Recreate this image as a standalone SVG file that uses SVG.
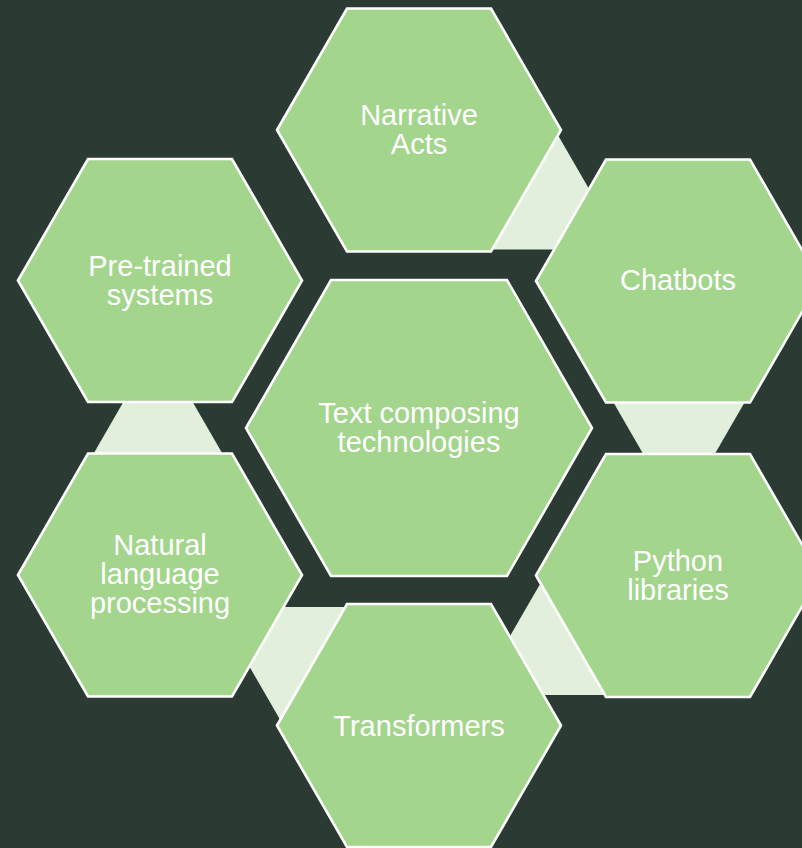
<svg xmlns="http://www.w3.org/2000/svg" width="802" height="848" viewBox="0 0 802 848">
  <style>
    .hex { fill: #a3d58d; stroke: #ffffff; stroke-width: 2.6; stroke-linejoin: miter; }
    .link { fill: #e1efdc; stroke: none; }
    .label { fill: #ffffff; font-family: "Liberation Sans", Arial, sans-serif; font-size: 29px; text-anchor: middle; }
  </style>
  <defs>
    <!-- outer hexagon, centred on the origin -->
    <polygon id="hexOuter" points="-142,0 -72,-121.5 72,-121.5 142,0 72,121.5 -72,121.5"/>
  </defs>

  <rect width="802" height="848" fill="#2b3a33"/>

  <!-- triangular links between neighbouring outer hexagons -->
  <g id="connectors">
    <polygon class="link" points="555,130 486,249.5 624,249.5"/>
    <polygon class="link" points="610,396.5 748,396.5 679,516"/>
    <polygon class="link" points="545,575.5 476,695 614,695"/>
    <polygon class="link" points="215,607 353,607 284,726.5"/>
    <polygon class="link" points="158,342 89,461.5 227,461.5"/>
  </g>

  <g id="center">
    <polygon class="hex" points="246,428 331,280 507,280 592,428 507,576 331,576"/>
    <text class="label" x="419" y="423">Text composing</text>
    <text class="label" x="419" y="452">technologies</text>
  </g>

  <g id="narrative-acts">
    <use href="#hexOuter" class="hex" x="419" y="130"/>
    <text class="label" x="419" y="125">Narrative</text>
    <text class="label" x="419" y="154">Acts</text>
  </g>

  <g id="chatbots">
    <use href="#hexOuter" class="hex" x="678" y="281"/>
    <text class="label" x="678" y="290">Chatbots</text>
  </g>

  <g id="python-libraries">
    <use href="#hexOuter" class="hex" x="678" y="575.5"/>
    <text class="label" x="678" y="570.5">Python</text>
    <text class="label" x="678" y="599.5">libraries</text>
  </g>

  <g id="transformers">
    <use href="#hexOuter" class="hex" x="419" y="725.5"/>
    <text class="label" x="419" y="735.5">Transformers</text>
  </g>

  <g id="natural-language-processing">
    <use href="#hexOuter" class="hex" x="160" y="575"/>
    <text class="label" x="160" y="555">Natural</text>
    <text class="label" x="160" y="584">language</text>
    <text class="label" x="160" y="613">processing</text>
  </g>

  <g id="pre-trained-systems">
    <use href="#hexOuter" class="hex" x="160" y="280.5"/>
    <text class="label" x="160" y="275.5">Pre-trained</text>
    <text class="label" x="160" y="304.5">systems</text>
  </g>
</svg>
